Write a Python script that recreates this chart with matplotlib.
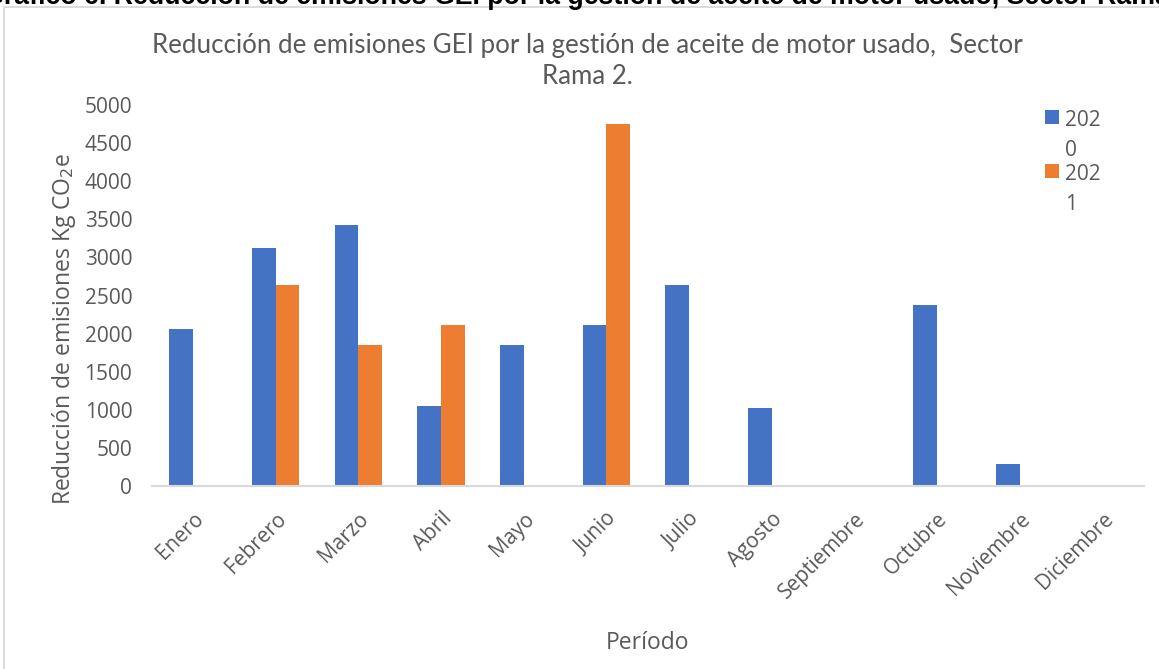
import matplotlib.pyplot as plt
import numpy as np
from matplotlib.patches import Rectangle
from matplotlib.transforms import ScaledTranslation

# Datos
meses = ['Enero', 'Febrero', 'Marzo', 'Abril', 'Mayo', 'Junio', 'Julio',
         'Agosto', 'Septiembre', 'Octubre', 'Noviembre', 'Diciembre']
valores_2020 = [2060, 3120, 3430, 1050, 1850, 2110, 2640, 1030, 0, 2375, 290, 0]
valores_2021 = [0, 2640, 1850, 2110, 0, 4750, 0, 0, 0, 0, 0, 0]
etiquetas = ['202\n0', '202\n1']

azul = '#4472C4'
naranja = '#ED7D31'
gris = '#595959'

plt.rcParams['font.family'] = ['Open Sans', 'DejaVu Sans']

W, H = 1159, 669
fig = plt.figure(figsize=(W / 100, H / 100), dpi=100)

# borde del gráfico (recortado como en la captura)
fig.patches.append(Rectangle((3.5 / W, -0.1), 1.2, 1 - 7 / H + 0.1,
                             transform=fig.transFigure, fill=False,
                             edgecolor='#D9D9D9', linewidth=1.3))

# encabezado del documento, cortado por arriba
fig.text(913 / W, 1 - 4 / H, 'usado, Sector Rama 2.', family='Liberation Sans',
         fontweight='bold', fontsize=19.3, color='black', ha='left', va='baseline')
fig.text(913 / W, 1 - 4 / H, 'Gráfico 6. Reducción de emisiones GEI por la gestión de aceite de motor ',
         family='Liberation Sans', fontweight='bold', fontsize=19.3, color='black',
         ha='right', va='baseline')

ax = fig.add_axes([151.7 / W, 183 / H, 992 / W, 381 / H])

x = np.arange(len(meses))
ancho = 0.287
ax.bar(x - ancho / 2, valores_2020, ancho, color=azul, label=etiquetas[0])
ax.bar(x + ancho / 2, valores_2021, ancho, color=naranja, label=etiquetas[1])

ax.set_xlim(-0.5, len(meses) - 0.5)
ax.set_ylim(0, 5000)
ax.set_yticks(range(0, 5001, 500))
ax.set_xticks(x)
ax.set_xticklabels(meses, rotation=45, ha='right', rotation_mode='anchor')
desplazar = ScaledTranslation(-5 / 72, 0, fig.dpi_scale_trans)
for etiqueta in ax.get_xticklabels():
    etiqueta.set_transform(etiqueta.get_transform() + desplazar)

for lado in ['top', 'right', 'left']:
    ax.spines[lado].set_visible(False)
ax.spines['bottom'].set_color('#D9D9D9')
ax.spines['bottom'].set_linewidth(1.5)
ax.tick_params(axis='both', length=0, labelsize=15, colors=gris)
ax.tick_params(axis='y', pad=14)
ax.tick_params(axis='x', pad=16)

ax.set_ylabel('Reducción de emisiones Kg CO$_2$e', fontsize=16.5, color=gris)
ax.set_xlabel('Período', fontsize=16.5, color=gris)
ax.yaxis.set_label_coords((64 - 151.7) / 992, (486 - 329) / 381)
ax.xaxis.set_label_coords((647 - 151.7) / 992, -(643 - 486) / 381)
ax.xaxis.label.set_va('center')
ax.yaxis.label.set_va('center')

fig.text(587 / W, 1 - 61 / H, 'Reducción de emisiones GEI por la gestión de aceite de motor usado,  Sector\nRama 2.',
         ha='center', va='center', fontsize=18.6, color=gris, linespacing=1.3,
         family=['Lato', 'DejaVu Sans'])

leg = ax.legend(loc='upper left', bbox_to_anchor=((1045 - 151.7) / 992, 0.987), frameon=False,
                fontsize=15, handlelength=0.67, handleheight=0.65, handletextpad=0.3,
                labelspacing=0.15, borderpad=0, borderaxespad=0)
for t in leg.get_texts():
    t.set_color(gris)
    t.set_linespacing(1.55)
# alinear el cuadro de color con la primera línea del texto
for col in leg._legend_handle_box.get_children():
    for fila in col.get_children():
        fila.align = 'top'

fig.savefig('out.png', dpi=100)
